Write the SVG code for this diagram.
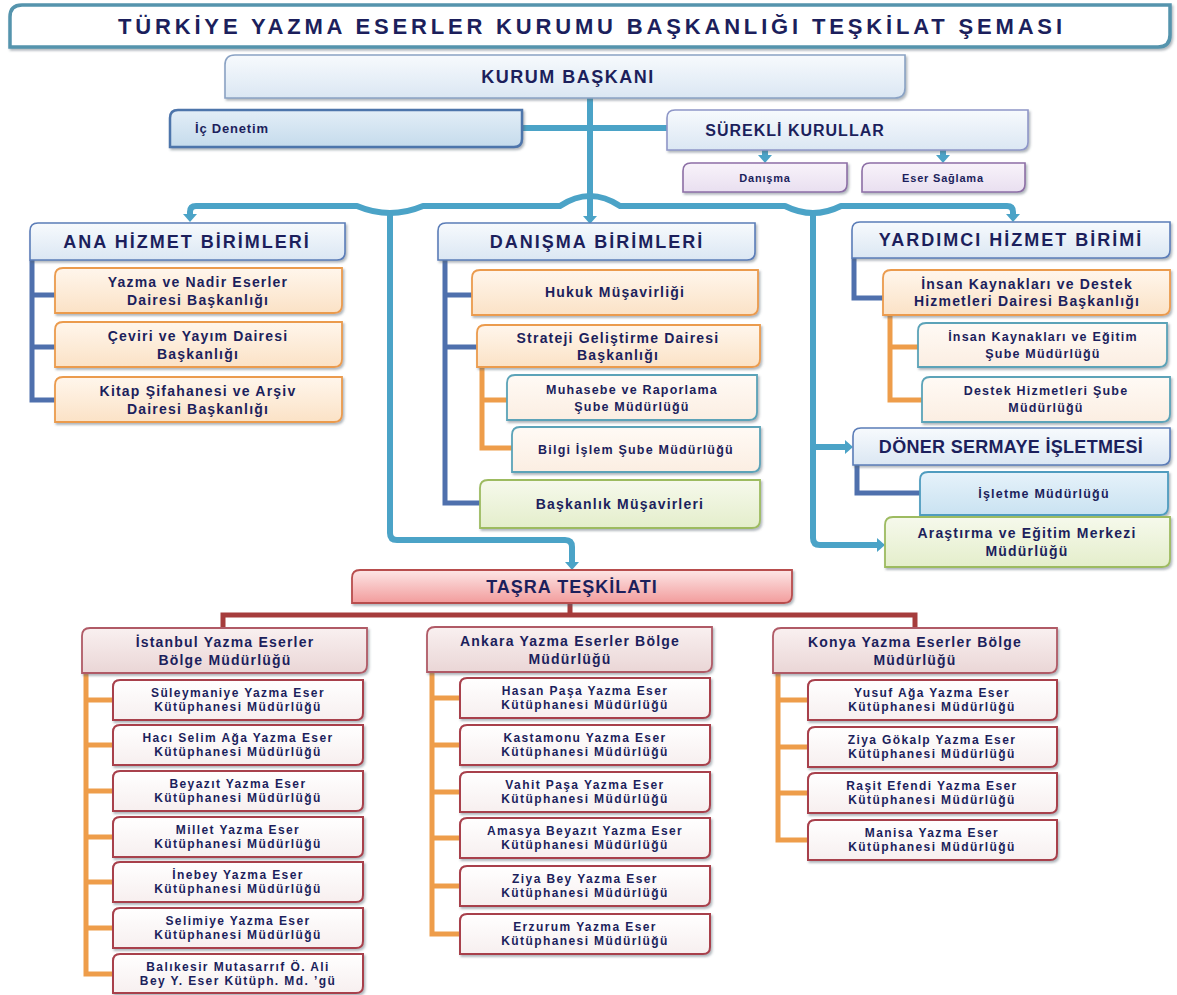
<svg xmlns="http://www.w3.org/2000/svg" width="1177" height="995" viewBox="0 0 1177 995">
<defs>
<style>
.t{font-family:"Liberation Sans",Arial,sans-serif;font-weight:700;fill:#1c1f5c;text-anchor:middle}
.h{font-size:18px;letter-spacing:2px}
.o{font-size:14px;letter-spacing:1.2px}
.s{font-size:12.5px;letter-spacing:1.2px}
.l{font-size:12px;letter-spacing:1.4px}
.tl{fill:none;stroke:#4ba3c7;stroke-width:6;stroke-linejoin:round}
.sb{fill:none;stroke:#4f70ad;stroke-width:5}
.ob{fill:none;stroke:#ee9d4a;stroke-width:5}
.rb{fill:none;stroke:#a63c3c;stroke-width:5}
.bx{filter:url(#sh)}
.hb{fill:url(#gBlue);stroke:#5b7db8;stroke-width:1.6}
.orb{fill:url(#gOr);stroke:#eb9b4d;stroke-width:1.8}
.sub{fill:url(#gSub);stroke:#5ba3b8;stroke-width:1.8}
.grb{fill:url(#gGr);stroke:#9dbb61;stroke-width:1.8}
.pur{fill:url(#gPur);stroke:#8d6fa6;stroke-width:1.6}
.reg{fill:url(#gReg);stroke:#b05a66;stroke-width:1.8}
.lib{fill:url(#gLib);stroke:#a8404c;stroke-width:2}
</style>
<filter id="sh" x="-5%" y="-10%" width="110%" height="130%"><feDropShadow dx="1.5" dy="2" stdDeviation="1.2" flood-color="#55606e" flood-opacity="0.45"/></filter>
<linearGradient id="gBlue" x1="0" y1="0" x2="0" y2="1"><stop offset="0" stop-color="#f7fafd"/><stop offset="1" stop-color="#dbe7f3"/></linearGradient>
<linearGradient id="gIc" x1="0" y1="0" x2="0" y2="1"><stop offset="0" stop-color="#e3eef7"/><stop offset="1" stop-color="#c5dbec"/></linearGradient>
<linearGradient id="gOr" x1="0" y1="0" x2="0" y2="1"><stop offset="0" stop-color="#fff6ec"/><stop offset="1" stop-color="#fbe2c6"/></linearGradient>
<linearGradient id="gSub" x1="0" y1="0" x2="0" y2="1"><stop offset="0" stop-color="#fffaf5"/><stop offset="1" stop-color="#fbeee2"/></linearGradient>
<linearGradient id="gIs" x1="0" y1="0" x2="0" y2="1"><stop offset="0" stop-color="#e6f2fa"/><stop offset="1" stop-color="#c9e2f1"/></linearGradient>
<linearGradient id="gGr" x1="0" y1="0" x2="0" y2="1"><stop offset="0" stop-color="#f6f9ec"/><stop offset="1" stop-color="#e4eecb"/></linearGradient>
<linearGradient id="gPur" x1="0" y1="0" x2="0" y2="1"><stop offset="0" stop-color="#f8f3fa"/><stop offset="1" stop-color="#e9dff0"/></linearGradient>
<linearGradient id="gTas" x1="0" y1="0" x2="0" y2="1"><stop offset="0" stop-color="#fde6e6"/><stop offset="1" stop-color="#f29c9c"/></linearGradient>
<linearGradient id="gReg" x1="0" y1="0" x2="0" y2="1"><stop offset="0" stop-color="#f9f0f0"/><stop offset="1" stop-color="#ead6d6"/></linearGradient>
<linearGradient id="gLib" x1="0" y1="0" x2="0" y2="1"><stop offset="0" stop-color="#ffffff"/><stop offset="1" stop-color="#f7efef"/></linearGradient>
<marker id="ah" viewBox="0 0 8 14" refX="2" refY="7" markerWidth="8" markerHeight="14" markerUnits="userSpaceOnUse" orient="auto-start-reverse"><path d="M0,0L8,7L0,14Z" fill="#4ba3c7"/></marker>
</defs>
<rect width="1177" height="995" fill="#ffffff"/>

<g id="connectors">
<path class="tl" d="M590,98V218" marker-end="url(#ah)"/>
<path class="tl" d="M522,128H667"/>
<path class="tl" d="M765,150V157" marker-end="url(#ah)"/>
<path class="tl" d="M943,150V157" marker-end="url(#ah)"/>
<path class="tl" d="M190,216V212Q190,206 196,206H357Q390,220 423,206H560Q590,186 620,206H785Q813,220 841,206H1007Q1013,206 1013,212V216" marker-start="url(#ah)" marker-end="url(#ah)"/>
<path class="tl" d="M390,213V533Q390,540 397,540H565Q572,540 572,547V564" marker-end="url(#ah)"/>
<path class="tl" d="M813,213V538Q813,545 820,545H879" marker-end="url(#ah)"/>
<path class="tl" d="M813,447H847" marker-end="url(#ah)"/>
<path class="sb" d="M32,260V400H57M32,295H57M32,347H57"/>
<path class="sb" d="M445,260V503H480M445,295H472M445,347H477"/>
<path class="sb" d="M854,258V298H883"/>
<path class="sb" d="M857,465V493H920"/>
<path class="ob" d="M482,367V448H512M482,400H507"/>
<path class="ob" d="M890,315V400H922M890,347H918"/>
<path class="ob" d="M86,673V974H113M86,700H113M86,745H113M86,791H113M86,837H113M86,882H113M86,928H113"/>
<path class="ob" d="M432,672V934H460M432,698H460M432,745H460M432,792H460M432,838H460M432,886H460"/>
<path class="ob" d="M778,673V840H808M778,700H808M778,747H808M778,793H808"/>
<path class="rb" d="M570,603V615M223,628V615H915V628"/>
</g>

<g id="n-title">
<path d="M22,5H1170V35Q1170,47 1158,47H10V17Q10,5 22,5Z" fill="#ffffff" stroke="#5494ad" stroke-width="3.5" class="bx"/>
<text class="t" x="590" y="34" font-size="22" textLength="944" lengthAdjust="spacing">TÜRKİYE YAZMA ESERLER KURUMU BAŞKANLIĞI TEŞKİLAT ŞEMASI</text>
</g>

<g id="n-baskan">
<path d="M235,55H905V88Q905,98 895,98H225V65Q225,55 235,55Z" class="bx" fill="url(#gBlue)" stroke="#8aa2c4" stroke-width="1.6"/>
<text class="t" x="568" y="83" font-size="18" letter-spacing="1.5">KURUM BAŞKANI</text>
</g>

<g id="n-icdenetim">
<path d="M178,110H522V139Q522,147 514,147H170V118Q170,110 178,110Z" class="bx" fill="url(#gIc)" stroke="#4e74ab" stroke-width="2.5"/>
<text class="t" x="195" y="133" font-size="13" letter-spacing="0.8" style="text-anchor:start">İç Denetim</text>
</g>

<g id="n-surekli">
<path d="M675,110H1028V142Q1028,150 1020,150H667V118Q667,110 675,110Z" class="bx" fill="url(#gBlue)" stroke="#8f97c8" stroke-width="1.6"/>
<text class="t" x="795" y="136" font-size="16" letter-spacing="1">SÜREKLİ KURULLAR</text>
</g>

<g id="n-danisma">
<path d="M691,163H847V184Q847,192 839,192H683V171Q683,163 691,163Z" class="bx pur"/>
<text class="t" x="765" y="182" font-size="11" letter-spacing="0.8">Danışma</text>
</g>
<g id="n-esersaglama">
<path d="M870,163H1025V184Q1025,192 1017,192H862V171Q862,163 870,163Z" class="bx pur"/>
<text class="t" x="943" y="182" font-size="11" letter-spacing="0.8">Eser Sağlama</text>
</g>

<g id="n-ana">
<path d="M38,223H345V252Q345,260 337,260H30V231Q30,223 38,223Z" class="bx hb"/>
<text class="t h" x="187" y="248">ANA HİZMET BİRİMLERİ</text>
</g>
<g id="n-ana1">
<path d="M63,268H342V305Q342,313 334,313H55V276Q55,268 63,268Z" class="bx orb"/>
<text class="t o"><tspan x="198" y="287">Yazma ve Nadir Eserler</tspan><tspan x="198" y="305">Dairesi Başkanlığı</tspan></text>
</g>
<g id="n-ana2">
<path d="M63,322H342V359Q342,367 334,367H55V330Q55,322 63,322Z" class="bx orb"/>
<text class="t o"><tspan x="198" y="341">Çeviri ve Yayım Dairesi</tspan><tspan x="198" y="359">Başkanlığı</tspan></text>
</g>
<g id="n-ana3">
<path d="M63,377H342V414Q342,422 334,422H55V385Q55,377 63,377Z" class="bx orb"/>
<text class="t o"><tspan x="198" y="396">Kitap Şifahanesi ve Arşiv</tspan><tspan x="198" y="414">Dairesi Başkanlığı</tspan></text>
</g>

<g id="n-danismabirim">
<path d="M446,223H755V252Q755,260 747,260H438V231Q438,223 446,223Z" class="bx hb"/>
<text class="t h" x="597" y="248">DANIŞMA BİRİMLERİ</text>
</g>
<g id="n-hukuk">
<path d="M480,270H758V307Q758,315 750,315H472V278Q472,270 480,270Z" class="bx orb"/>
<text class="t o" x="615" y="297">Hukuk Müşavirliği</text>
</g>
<g id="n-strateji">
<path d="M485,325H760V359Q760,367 752,367H477V333Q477,325 485,325Z" class="bx orb"/>
<text class="t o"><tspan x="618" y="343">Strateji Geliştirme Dairesi</tspan><tspan x="618" y="360">Başkanlığı</tspan></text>
</g>
<g id="n-muhasebe">
<path d="M515,375H757V412Q757,420 749,420H507V383Q507,375 515,375Z" class="bx sub"/>
<text class="t s"><tspan x="632" y="394">Muhasebe ve Raporlama</tspan><tspan x="632" y="411">Şube Müdürlüğü</tspan></text>
</g>
<g id="n-bilgi">
<path d="M520,427H760V464Q760,472 752,472H512V435Q512,427 520,427Z" class="bx sub"/>
<text class="t s" x="636" y="454">Bilgi İşlem Şube Müdürlüğü</text>
</g>
<g id="n-musavir">
<path d="M488,480H760V520Q760,528 752,528H480V488Q480,480 488,480Z" class="bx grb"/>
<text class="t o" x="620" y="509">Başkanlık Müşavirleri</text>
</g>

<g id="n-yardimci">
<path d="M860,222H1170V250Q1170,258 1162,258H852V230Q852,222 860,222Z" class="bx hb"/>
<text class="t h" x="1011" y="246">YARDIMCI HİZMET BİRİMİ</text>
</g>
<g id="n-ikdh">
<path d="M891,270H1170V307Q1170,315 1162,315H883V278Q883,270 891,270Z" class="bx orb"/>
<text class="t o"><tspan x="1027" y="289">İnsan Kaynakları ve Destek</tspan><tspan x="1027" y="306">Hizmetleri Dairesi Başkanlığı</tspan></text>
</g>
<g id="n-ike">
<path d="M926,323H1167V359Q1167,367 1159,367H918V331Q918,323 926,323Z" class="bx sub"/>
<text class="t s"><tspan x="1043" y="341">İnsan Kaynakları ve Eğitim</tspan><tspan x="1043" y="358">Şube Müdürlüğü</tspan></text>
</g>
<g id="n-destek">
<path d="M930,377H1170V414Q1170,422 1162,422H922V385Q922,377 930,377Z" class="bx sub"/>
<text class="t s"><tspan x="1046" y="395">Destek Hizmetleri Şube</tspan><tspan x="1046" y="412">Müdürlüğü</tspan></text>
</g>
<g id="n-doner">
<path d="M861,428H1170V457Q1170,465 1162,465H853V436Q853,428 861,428Z" class="bx hb"/>
<text class="t" x="1011" y="453" font-size="18" letter-spacing="0.3">DÖNER SERMAYE İŞLETMESİ</text>
</g>
<g id="n-isletme">
<path d="M928,472H1168V507Q1168,515 1160,515H920V480Q920,472 928,472Z" fill="url(#gIs)" stroke="#4f9cbf" stroke-width="1.8" class="bx"/>
<text class="t s" x="1044" y="498">İşletme Müdürlüğü</text>
</g>
<g id="n-arastirma">
<path d="M893,517H1170V559Q1170,567 1162,567H885V525Q885,517 893,517Z" class="bx grb"/>
<text class="t o"><tspan x="1027" y="538">Araştırma ve Eğitim Merkezi</tspan><tspan x="1027" y="556">Müdürlüğü</tspan></text>
</g>

<g id="n-tasra">
<path d="M360,570H792V595Q792,603 784,603H352V578Q352,570 360,570Z" class="bx" fill="url(#gTas)" stroke="#b84d4d" stroke-width="1.8"/>
<text class="t" x="572" y="593" font-size="18" letter-spacing="1">TAŞRA TEŞKİLATI</text>
</g>

<g id="n-istanbul">
<path d="M90,628H367V665Q367,673 359,673H82V636Q82,628 90,628Z" class="bx reg"/>
<text class="t o"><tspan x="225" y="647">İstanbul Yazma Eserler</tspan><tspan x="225" y="665">Bölge Müdürlüğü</tspan></text>
</g>
<g id="n-ist1"><path d="M120,680H363V713Q363,720 356,720H113V687Q113,680 120,680Z" class="bx lib"/><text class="t l"><tspan x="238" y="697">Süleymaniye Yazma Eser</tspan><tspan x="238" y="711">Kütüphanesi Müdürlüğü</tspan></text></g>
<g id="n-ist2"><path d="M120,725H363V758Q363,765 356,765H113V732Q113,725 120,725Z" class="bx lib"/><text class="t l"><tspan x="238" y="742">Hacı Selim Ağa Yazma Eser</tspan><tspan x="238" y="756">Kütüphanesi Müdürlüğü</tspan></text></g>
<g id="n-ist3"><path d="M120,771H363V804Q363,811 356,811H113V778Q113,771 120,771Z" class="bx lib"/><text class="t l"><tspan x="238" y="788">Beyazıt Yazma Eser</tspan><tspan x="238" y="802">Kütüphanesi Müdürlüğü</tspan></text></g>
<g id="n-ist4"><path d="M120,817H363V850Q363,857 356,857H113V824Q113,817 120,817Z" class="bx lib"/><text class="t l"><tspan x="238" y="834">Millet Yazma Eser</tspan><tspan x="238" y="848">Kütüphanesi Müdürlüğü</tspan></text></g>
<g id="n-ist5"><path d="M120,862H363V895Q363,902 356,902H113V869Q113,862 120,862Z" class="bx lib"/><text class="t l"><tspan x="238" y="879">İnebey Yazma Eser</tspan><tspan x="238" y="893">Kütüphanesi Müdürlüğü</tspan></text></g>
<g id="n-ist6"><path d="M120,908H363V941Q363,948 356,948H113V915Q113,908 120,908Z" class="bx lib"/><text class="t l"><tspan x="238" y="925">Selimiye Yazma Eser</tspan><tspan x="238" y="939">Kütüphanesi Müdürlüğü</tspan></text></g>
<g id="n-ist7"><path d="M120,954H363V986Q363,993 356,993H113V961Q113,954 120,954Z" class="bx lib"/><text class="t l"><tspan x="238" y="971">Balıkesir Mutasarrıf Ö. Ali</tspan><tspan x="238" y="985">Bey Y. Eser Kütüph. Md. ’gü</tspan></text></g>

<g id="n-ankara">
<path d="M435,627H712V664Q712,672 704,672H427V635Q427,627 435,627Z" class="bx reg"/>
<text class="t o"><tspan x="570" y="646">Ankara Yazma Eserler Bölge</tspan><tspan x="570" y="664">Müdürlüğü</tspan></text>
</g>
<g id="n-ank1"><path d="M467,678H710V711Q710,718 703,718H460V685Q460,678 467,678Z" class="bx lib"/><text class="t l"><tspan x="585" y="695">Hasan Paşa Yazma Eser</tspan><tspan x="585" y="709">Kütüphanesi Müdürlüğü</tspan></text></g>
<g id="n-ank2"><path d="M467,725H710V758Q710,765 703,765H460V732Q460,725 467,725Z" class="bx lib"/><text class="t l"><tspan x="585" y="742">Kastamonu Yazma Eser</tspan><tspan x="585" y="756">Kütüphanesi Müdürlüğü</tspan></text></g>
<g id="n-ank3"><path d="M467,772H710V805Q710,812 703,812H460V779Q460,772 467,772Z" class="bx lib"/><text class="t l"><tspan x="585" y="789">Vahit Paşa Yazma Eser</tspan><tspan x="585" y="803">Kütüphanesi Müdürlüğü</tspan></text></g>
<g id="n-ank4"><path d="M467,818H710V851Q710,858 703,858H460V825Q460,818 467,818Z" class="bx lib"/><text class="t l"><tspan x="585" y="835">Amasya Beyazıt Yazma Eser</tspan><tspan x="585" y="849">Kütüphanesi Müdürlüğü</tspan></text></g>
<g id="n-ank5"><path d="M467,866H710V899Q710,906 703,906H460V873Q460,866 467,866Z" class="bx lib"/><text class="t l"><tspan x="585" y="883">Ziya Bey Yazma Eser</tspan><tspan x="585" y="897">Kütüphanesi Müdürlüğü</tspan></text></g>
<g id="n-ank6"><path d="M467,914H710V947Q710,954 703,954H460V921Q460,914 467,914Z" class="bx lib"/><text class="t l"><tspan x="585" y="931">Erzurum Yazma Eser</tspan><tspan x="585" y="945">Kütüphanesi Müdürlüğü</tspan></text></g>

<g id="n-konya">
<path d="M781,628H1057V665Q1057,673 1049,673H773V636Q773,628 781,628Z" class="bx reg"/>
<text class="t o"><tspan x="915" y="647">Konya Yazma Eserler Bölge</tspan><tspan x="915" y="665">Müdürlüğü</tspan></text>
</g>
<g id="n-kon1"><path d="M815,680H1057V713Q1057,720 1050,720H808V687Q808,680 815,680Z" class="bx lib"/><text class="t l"><tspan x="932" y="697">Yusuf Ağa Yazma Eser</tspan><tspan x="932" y="711">Kütüphanesi Müdürlüğü</tspan></text></g>
<g id="n-kon2"><path d="M815,727H1057V760Q1057,767 1050,767H808V734Q808,727 815,727Z" class="bx lib"/><text class="t l"><tspan x="932" y="744">Ziya Gökalp Yazma Eser</tspan><tspan x="932" y="758">Kütüphanesi Müdürlüğü</tspan></text></g>
<g id="n-kon3"><path d="M815,773H1057V806Q1057,813 1050,813H808V780Q808,773 815,773Z" class="bx lib"/><text class="t l"><tspan x="932" y="790">Raşit Efendi Yazma Eser</tspan><tspan x="932" y="804">Kütüphanesi Müdürlüğü</tspan></text></g>
<g id="n-kon4"><path d="M815,820H1057V853Q1057,860 1050,860H808V827Q808,820 815,820Z" class="bx lib"/><text class="t l"><tspan x="932" y="837">Manisa Yazma Eser</tspan><tspan x="932" y="851">Kütüphanesi Müdürlüğü</tspan></text></g>
</svg>
